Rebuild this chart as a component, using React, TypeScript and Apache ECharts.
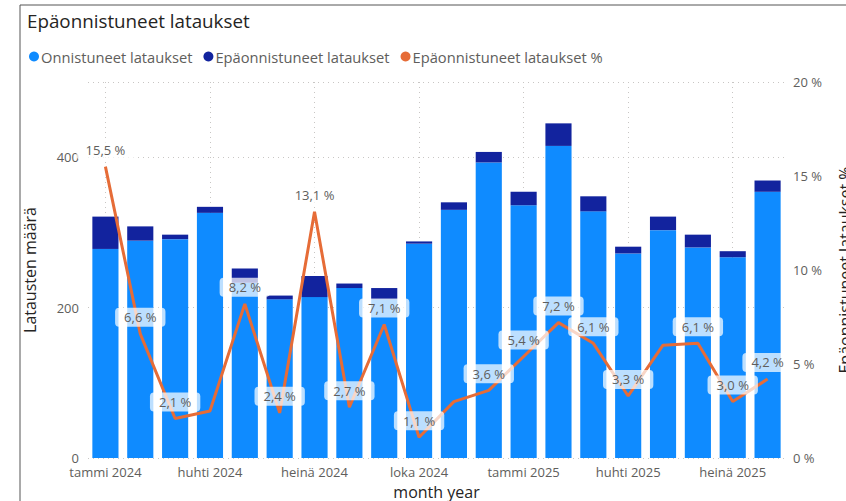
import React, { useEffect, useRef } from "react";
import * as echarts from "echarts";

const months = ["tammi", "helmi", "maalis", "huhti", "touko", "kesä", "heinä", "elo", "syys", "loka", "marras", "joulu"];
const categories: string[] = [
  ...months.map((m) => m + " 2024"),
  ...months.slice(0, 8).map((m) => m + " 2025"),
];
const successful = [278, 289, 291, 326, 233, 211, 214, 226, 211, 285, 330, 393, 336, 415, 328, 272, 303, 280, 267, 354];
const failed = [43, 19, 6, 8, 19, 5, 28, 6, 15, 3, 10, 14, 18, 30, 20, 9, 18, 17, 8, 15];
const failedPct = [15.5, 6.6, 2.1, 2.5, 8.2, 2.4, 13.1, 2.7, 7.1, 1.1, 3.0, 3.6, 5.4, 7.2, 6.1, 3.3, 6.0, 6.1, 3.0, 4.2];
const hiddenLabels = [3, 10, 16];
const leftTicks = [0, 200, 400];
const rightTicks = [0, 5, 10, 15, 20];

const FONT = "'Open Sans', 'Noto Sans', sans-serif";

export default function App() {
  const ref = useRef<HTMLDivElement>(null);
  useEffect(() => {
    if (!ref.current) return;
    const chart = echarts.init(ref.current, null, { renderer: "svg" });
    const fmt = (v: number) => v.toFixed(1).replace(".", ",") + " %";
    chart.setOption({
      animation: false,
      textStyle: { fontFamily: FONT },
      graphic: [
        {
          type: "rect",
          shape: { x: 20, y: 5, width: 900, height: 600 },
          style: { fill: "none", stroke: "#555", lineWidth: 1 },
          silent: true,
        },
      ],
      title: {
        text: "Epäonnistuneet lataukset",
        left: 22,
        top: 6,
        textStyle: { fontSize: 18.8, fontWeight: "normal", color: "#252423", fontFamily: FONT },
      },
      legend: {
        left: 24,
        top: 44,
        icon: "circle",
        itemWidth: 10,
        itemHeight: 10,
        itemGap: 11,
        textStyle: { fontSize: 14.7, color: "#605E5C", fontFamily: FONT, padding: [0, 0, 0, -3] },
        data: ["Onnistuneet lataukset", "Epäonnistuneet lataukset", "Epäonnistuneet lataukset %"],
      },
      grid: { left: 88, right: 61, top: 82, bottom: 43, outerBoundsMode: "none", containLabel: false },
      xAxis: {
        type: "category",
        data: categories,
        name: "month year",
        nameLocation: "middle",
        nameGap: 26,
        nameTextStyle: { fontSize: 16, color: "#252423" },
        axisLine: { show: false },
        axisTick: { show: false },
        axisLabel: { interval: 2, fontSize: 13, color: "#605E5C", margin: 7 },
        splitLine: {
          show: true,
          interval: 2,
          alignWithLabel: true,
          lineStyle: { type: [1, 4], color: "#C8C6C4", width: 1 },
        },
      },
      yAxis: [
        {
          type: "value",
          min: leftTicks[0],
          max: 500,
          interval: 200,
          name: "Latausten määrä",
          nameLocation: "middle",
          nameRotate: 90,
          nameGap: 50,
          nameTextStyle: { fontSize: 16, color: "#252423" },
          axisLabel: { fontSize: 13, color: "#605E5C", margin: 9, showMaxLabel: false },
          axisLine: { show: false },
          axisTick: { show: false },
          splitLine: { show: true, lineStyle: { type: [1, 4], color: "#C8C6C4", width: 1 } },
        },
        {
          type: "value",
          min: rightTicks[0],
          max: rightTicks[rightTicks.length - 1],
          interval: 5,
          name: "Epäonnistuneet lataukset %",
          nameLocation: "middle",
          nameRotate: 90,
          nameGap: 52,
          nameTextStyle: { fontSize: 16, color: "#252423" },
          axisLabel: { fontSize: 13, color: "#605E5C", margin: 8, formatter: (v: number) => v + " %" },
          axisLine: { show: false },
          axisTick: { show: false },
          splitLine: { show: false },
        },
      ],
      series: [
        {
          name: "Onnistuneet lataukset",
          type: "bar",
          stack: "total",
          data: successful,
          itemStyle: { color: "#0F8BFF" },
          barCategoryGap: "25%",
          z: 2,
        },
        {
          name: "Epäonnistuneet lataukset",
          type: "bar",
          stack: "total",
          data: failed,
          itemStyle: { color: "#12239E" },
          z: 2,
        },
        {
          name: "Epäonnistuneet lataukset %",
          type: "line",
          yAxisIndex: 1,
          data: failedPct.map((v, i) => ({
            value: v,
            label: { show: !hiddenLabels.includes(i) },
          })),
          symbol: "circle",
          symbolSize: 0.1,
          showSymbol: true,
          itemStyle: { color: "#E66C37" },
          lineStyle: { color: "#E66C37", width: 3 },
          z: 3,
          label: {
            show: true,
            position: "top",
            distance: 7,
            formatter: (p: any) => fmt(p.value),
            fontSize: 13,
            color: "#605E5C",
            backgroundColor: "rgba(255,255,255,0.72)",
            borderRadius: 4,
            padding: [3, 9],
          },
        },
      ],
    });
    return () => chart.dispose();
  }, []);
  return <div ref={ref} style={{ width: 846, height: 501, position: "absolute", left: 0, top: 0 }} />;
}
